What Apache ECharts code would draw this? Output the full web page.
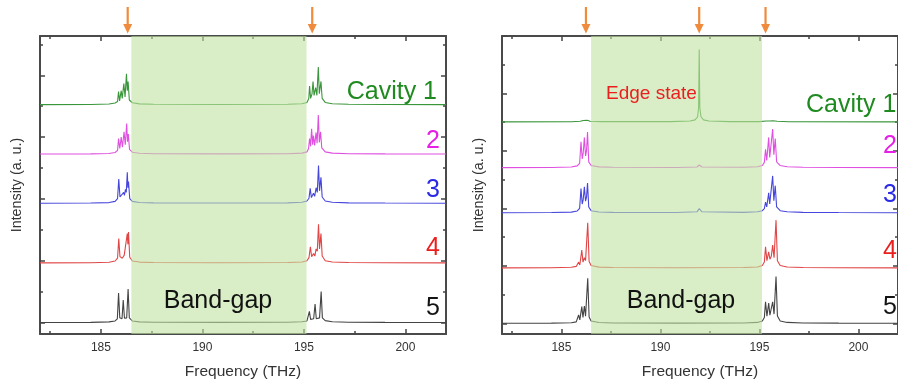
<!DOCTYPE html>
<html>
<head>
<meta charset="utf-8">
<script src="https://cdn.jsdelivr.net/npm/echarts@6/dist/echarts.min.js"></script>
<style>
  html, body { margin: 0; padding: 0; background: #fff; }
  #c { width: 898px; height: 385px; }
</style>
</head>
<body>
<div id="c"></div>
<script>
// Axis ticks (THz on x, arbitrary stacked intensity on y)
const freqTicks = [185, 190, 195, 200];
const freqMinorTicks = [182.5, 187.5, 192.5, 197.5];
const intensityTicks = [0, 2, 4, 6, 8, 10];
const intensityMinorTicks = [1, 3, 5, 7, 9];

const traceLabels = ['Cavity 1', '2', '3', '4', '5'];
const lineColors = ['#3a963a', '#e050e0', '#4646dc', '#e04646', '#444444'];
const textColors = ['#1f8a1f', '#e61ee6', '#2a2ae6', '#eb1e1e', '#141414'];

// Photonic band gap and marked modes (THz)
const bandGap = [186.5, 195.13];
const arrowsLeft = [186.32, 195.41];
const arrowsRight = [186.24, 191.96, 195.31];

// Vertical offsets of the stacked spectra
const offsetsLeft = [7.05, 5.45, 3.86, 1.93, 0];
const offsetsRight = [7.01, 5.42, 3.85, 1.93, 0];

// Left panel spectra: [frequency, intensity]
const left1 = [[182,0],[184.5,0.005],[185.4,0.02],[185.7,0.05],[185.82,0.1],[185.87,0.42],[185.92,0.12],[186.0,0.45],[186.05,0.2],[186.13,0.68],[186.19,0.25],[186.26,1.0],[186.3,0.45],[186.34,0.75],[186.4,0.15],[186.55,0.06],[186.9,0.025],[187.6,0.01],[190.8,0.005],[194.2,0.01],[194.9,0.03],[195.15,0.07],[195.24,0.2],[195.28,0.6],[195.33,0.2],[195.4,0.35],[195.45,0.75],[195.5,0.3],[195.58,0.55],[195.64,0.3],[195.71,1.22],[195.76,0.35],[195.84,0.75],[195.9,0.2],[196.05,0.07],[196.4,0.03],[197.2,0.01],[199,0.005],[202,0]];
const left2 = [[182,0],[184.5,0.005],[185.4,0.02],[185.7,0.05],[185.82,0.12],[185.87,0.5],[185.93,0.18],[186.0,0.55],[186.06,0.22],[186.14,0.72],[186.2,0.3],[186.27,0.99],[186.31,0.4],[186.35,0.65],[186.41,0.15],[186.55,0.06],[186.9,0.025],[187.6,0.01],[190.8,0.005],[194.2,0.01],[194.9,0.03],[195.15,0.07],[195.23,0.18],[195.28,0.5],[195.33,0.25],[195.38,0.82],[195.43,0.3],[195.47,0.6],[195.53,0.28],[195.6,0.7],[195.65,0.35],[195.71,1.26],[195.76,0.38],[195.82,0.72],[195.88,0.2],[196.05,0.07],[196.4,0.03],[197.2,0.01],[199,0.005],[202,0]];
const left3 = [[182,0],[184.5,0.005],[185.4,0.02],[185.7,0.06],[185.82,0.15],[185.88,0.78],[185.94,0.2],[186.03,0.15],[186.12,0.35],[186.16,0.25],[186.21,0.45],[186.25,0.35],[186.3,1.0],[186.33,0.5],[186.36,0.7],[186.42,0.15],[186.55,0.06],[186.9,0.025],[187.6,0.01],[190.8,0.005],[194.2,0.01],[194.9,0.03],[195.15,0.07],[195.25,0.16],[195.31,0.48],[195.37,0.18],[195.47,0.32],[195.53,0.22],[195.6,0.5],[195.66,0.35],[195.72,1.22],[195.77,0.4],[195.84,0.84],[195.9,0.2],[196.05,0.07],[196.4,0.03],[197.2,0.01],[199,0.005],[202,0]];
const left4 = [[182,0],[184.5,0.005],[185.4,0.02],[185.7,0.06],[185.82,0.15],[185.88,0.79],[185.94,0.2],[186.05,0.15],[186.15,0.25],[186.22,0.3],[186.3,0.95],[186.33,0.6],[186.36,1.0],[186.42,0.18],[186.55,0.06],[186.9,0.025],[187.6,0.01],[190.8,0.005],[194.2,0.01],[194.9,0.03],[195.15,0.07],[195.25,0.17],[195.32,0.52],[195.38,0.2],[195.48,0.3],[195.54,0.22],[195.6,0.45],[195.66,0.38],[195.72,1.25],[195.77,0.45],[195.84,0.95],[195.9,0.22],[196.05,0.07],[196.4,0.03],[197.2,0.01],[199,0.005],[202,0]];
const left5 = [[182,0],[184.5,0.005],[185.4,0.02],[185.7,0.05],[185.81,0.12],[185.87,0.95],[185.93,0.15],[186.04,0.12],[186.1,0.73],[186.16,0.14],[186.27,0.15],[186.34,1.08],[186.4,0.15],[186.55,0.05],[186.9,0.02],[187.6,0.01],[190.8,0.005],[194.2,0.01],[194.9,0.025],[195.15,0.05],[195.22,0.1],[195.27,0.36],[195.33,0.1],[195.48,0.12],[195.55,0.6],[195.61,0.12],[195.77,0.15],[195.85,1.0],[195.91,0.15],[196.05,0.06],[196.4,0.025],[197.2,0.01],[199,0.005],[202,0]];

// Right panel spectra: [frequency, intensity]
const right1 = [[182,0],[185.5,0.005],[185.95,0.02],[186.1,0.05],[186.18,0.03],[186.3,0.06],[186.45,0.02],[187,0.008],[190.5,0.01],[191.5,0.03],[191.75,0.07],[191.88,0.18],[191.93,0.5],[191.96,2.52],[191.99,0.5],[192.05,0.18],[192.18,0.07],[192.45,0.03],[193.5,0.01],[195.0,0.01],[195.35,0.03],[195.45,0.06],[195.52,0.03],[195.6,0.07],[195.68,0.04],[195.75,0.06],[195.9,0.02],[196.5,0.005],[202,0]];
const right2 = [[182,0],[184.5,0.005],[185.5,0.02],[185.8,0.06],[185.92,0.15],[185.99,0.9],[186.05,0.3],[186.1,0.5],[186.16,1.05],[186.22,0.4],[186.27,0.6],[186.32,1.24],[186.38,0.2],[186.5,0.07],[186.9,0.025],[187.6,0.01],[190.8,0.005],[191.85,0.02],[191.96,0.09],[192.1,0.02],[194.2,0.01],[194.9,0.03],[195.15,0.07],[195.25,0.18],[195.31,0.64],[195.37,0.25],[195.47,1.05],[195.52,0.35],[195.58,0.3],[195.67,1.34],[195.73,0.45],[195.8,1.01],[195.87,0.2],[196.05,0.07],[196.4,0.03],[197.2,0.01],[199,0.005],[202,0]];
const right3 = [[182,0],[184.5,0.005],[185.5,0.02],[185.8,0.06],[185.92,0.15],[185.99,0.84],[186.05,0.3],[186.1,0.45],[186.16,0.9],[186.22,0.4],[186.27,0.55],[186.32,1.03],[186.38,0.2],[186.5,0.07],[186.9,0.025],[187.6,0.01],[190.8,0.005],[191.85,0.03],[191.96,0.14],[192.1,0.03],[194.2,0.01],[194.9,0.03],[195.15,0.07],[195.25,0.14],[195.31,0.37],[195.37,0.2],[195.47,0.69],[195.52,0.3],[195.58,0.3],[195.67,1.28],[195.73,0.42],[195.8,0.94],[195.87,0.2],[196.05,0.07],[196.4,0.03],[197.2,0.01],[199,0.005],[202,0]];
const right4 = [[182,0],[184.5,0.005],[185.5,0.02],[185.75,0.05],[185.87,0.2],[185.93,0.1],[186.03,0.62],[186.09,0.2],[186.16,0.35],[186.22,0.25],[186.33,1.57],[186.4,0.22],[186.5,0.08],[186.9,0.025],[187.6,0.01],[190.8,0.005],[194.2,0.01],[194.9,0.03],[195.15,0.08],[195.25,0.2],[195.31,0.73],[195.38,0.25],[195.47,0.56],[195.53,0.3],[195.6,0.4],[195.67,0.79],[195.74,0.35],[195.84,1.66],[195.91,0.25],[196.05,0.08],[196.4,0.03],[197.2,0.01],[199,0.005],[202,0]];
const right5 = [[182,0],[184.5,0.005],[185.5,0.02],[185.75,0.05],[185.87,0.29],[185.93,0.12],[186.03,0.58],[186.09,0.2],[186.16,0.6],[186.22,0.25],[186.33,1.57],[186.4,0.22],[186.5,0.08],[186.9,0.025],[187.6,0.01],[190.8,0.005],[194.2,0.01],[194.9,0.03],[195.15,0.08],[195.25,0.2],[195.31,0.75],[195.38,0.25],[195.47,0.7],[195.53,0.28],[195.6,0.3],[195.67,0.75],[195.74,0.32],[195.84,1.63],[195.91,0.25],[196.05,0.08],[196.4,0.03],[197.2,0.01],[199,0.005],[202,0]];

const spectraLeft = [left1, left2, left3, left4, left5];
const spectraRight = [right1, right2, right3, right4, right5];

const FONT = '"Liberation Sans", Arial, Helvetica, sans-serif';
const frameColor = '#4a4a4a';

function frameAxis(kind, gridIndex, position, ticks, tickLen, opts) {
  const isX = kind === 'x';
  const base = {
    type: 'value',
    gridIndex: gridIndex,
    position: position,
    min: isX ? 182 : opts.min,
    max: isX ? 202 : opts.max,
    splitLine: { show: false },
    axisLine: { show: !!opts.line, onZero: false, lineStyle: { color: frameColor, width: 2 } },
    axisTick: { show: true, inside: true, length: tickLen, customValues: ticks,
                lineStyle: { color: '#444', width: 1.5 } },
    axisLabel: { show: false },
    silent: true
  };
  if (opts.labels) {
    base.axisLabel = { show: true, customValues: ticks, fontSize: 12, color: '#333',
                       fontFamily: FONT, margin: 8 };
  }
  if (opts.name) {
    base.name = opts.name;
    base.nameLocation = 'middle';
    base.nameGap = opts.nameGap;
    base.nameTextStyle = { fontSize: opts.nameSize, color: '#333', fontFamily: FONT };
  }
  return base;
}

function panelAxes(gridIndex, yMin, yMax) {
  const xs = [
    frameAxis('x', gridIndex, 'bottom', freqTicks, 5, { line: true, labels: true, name: 'Frequency (THz)', nameGap: 30, nameSize: 15.5 }),
    frameAxis('x', gridIndex, 'bottom', freqMinorTicks, 3, {}),
    frameAxis('x', gridIndex, 'top', freqTicks, 5, { line: true }),
    frameAxis('x', gridIndex, 'top', freqMinorTicks, 3, {})
  ];
  const ys = [
    frameAxis('y', gridIndex, 'left', intensityTicks, 5, { min: yMin, max: yMax, line: true, name: 'Intensity (a. u.)', nameGap: 16, nameSize: 14.3 }),
    frameAxis('y', gridIndex, 'left', intensityMinorTicks, 3, { min: yMin, max: yMax }),
    frameAxis('y', gridIndex, 'right', intensityTicks, 5, { min: yMin, max: yMax, line: true }),
    frameAxis('y', gridIndex, 'right', intensityMinorTicks, 3, { min: yMin, max: yMax })
  ];
  return { xs, ys };
}

const axesL = panelAxes(0, -0.372, 9.27);
const axesR = panelAxes(1, -0.373, 10.0);

function traceSeries(spectrum, offset, color, axisIndex) {
  return {
    type: 'line',
    xAxisIndex: axisIndex,
    yAxisIndex: axisIndex,
    data: spectrum.map(p => [p[0], p[1] + offset]),
    showSymbol: false,
    symbol: 'none',
    lineStyle: { width: 1.1, color: color },
    silent: true,
    z: 2
  };
}

function bandSeries(axisIndex) {
  return {
    type: 'line',
    xAxisIndex: axisIndex,
    yAxisIndex: axisIndex,
    data: [],
    silent: true,
    z: 5,
    markArea: {
      silent: true,
      z: 5,
      itemStyle: { color: 'rgba(192,226,160,0.6)' },
      data: [[{ xAxis: bandGap[0] }, { xAxis: bandGap[1] }]]
    }
  };
}

const series = [];
spectraLeft.forEach((s, i) => series.push(traceSeries(s, offsetsLeft[i], lineColors[i], 0)));
spectraRight.forEach((s, i) => series.push(traceSeries(s, offsetsRight[i], lineColors[i], 4)));
series.push(bandSeries(0));
series.push(bandSeries(4));

function label(text, x, y, size, color, align) {
  return {
    type: 'text', silent: true, z: 20,
    style: {
      text: text, x: x, y: y, fill: color,
      font: size + 'px ' + FONT,
      textAlign: align, align: align,
      textVerticalAlign: 'middle', verticalAlign: 'middle'
    }
  };
}

const texts = [
  // left panel
  label(traceLabels[0], 437, 92, 25, textColors[0], 'right'),
  label(traceLabels[1], 440, 141, 25, textColors[1], 'right'),
  label(traceLabels[2], 440, 190, 25, textColors[2], 'right'),
  label(traceLabels[3], 440, 248.5, 25, textColors[3], 'right'),
  label(traceLabels[4], 440, 308.5, 25, textColors[4], 'right'),
  label('Band-gap', 218, 301, 25, '#111', 'center'),
  // right panel
  label('Edge state', 606, 94, 19, '#eb1e1e', 'left'),
  label(traceLabels[0], 806, 105, 25, textColors[0], 'left'),
  label(traceLabels[1], 883, 146.5, 25, textColors[1], 'left'),
  label(traceLabels[2], 883, 195, 25, textColors[2], 'left'),
  label(traceLabels[3], 883, 251, 25, textColors[3], 'left'),
  label(traceLabels[4], 883, 307.5, 25, textColors[4], 'left'),
  label('Band-gap', 681, 301, 25, '#111', 'center')
];

const chart = echarts.init(document.getElementById('c'), null, { renderer: 'canvas', width: 898, height: 385 });
chart.setOption({
  animation: false,
  backgroundColor: '#fff',
  grid: [
    { left: 40, top: 36, width: 406, height: 298 },
    { left: 502, top: 36, width: 405, height: 298 }
  ],
  xAxis: axesL.xs.concat(axesR.xs),
  yAxis: axesL.ys.concat(axesR.ys),
  series: series,
  graphic: texts
});

// Orange arrows above the frame, placed through the frequency axis
const arrowColor = '#f08a3c';
function arrow(px) {
  return [
    { type: 'line', silent: true, z: 20,
      shape: { x1: px, y1: 7, x2: px, y2: 26 },
      style: { stroke: arrowColor, lineWidth: 2.2 } },
    { type: 'polygon', silent: true, z: 20,
      shape: { points: [[px - 4.5, 24], [px + 4.5, 24], [px, 33.5]] },
      style: { fill: arrowColor } }
  ];
}
let arrowEls = [];
arrowsLeft.forEach(f => { arrowEls = arrowEls.concat(arrow(chart.convertToPixel({ xAxisIndex: 0 }, f))); });
arrowsRight.forEach(f => { arrowEls = arrowEls.concat(arrow(chart.convertToPixel({ xAxisIndex: 4 }, f))); });
chart.setOption({ graphic: texts.concat(arrowEls) });
</script>
</body>
</html>
